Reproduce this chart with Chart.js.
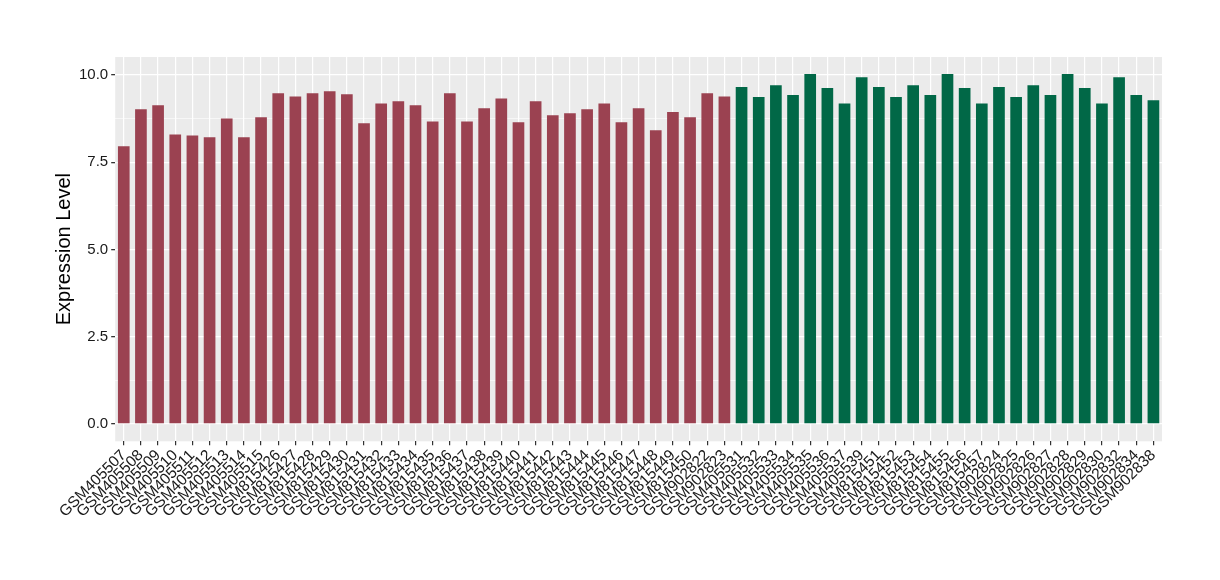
<!DOCTYPE html>
<html>
<head>
<meta charset="utf-8">
<script src="https://cdn.jsdelivr.net/npm/chart.js@4"></script>
<style>
  html, body { margin: 0; padding: 0; background: #fff; }
  #wrap { width: 1220px; height: 580px; }
</style>
</head>
<body>
<div id="wrap"><canvas id="exprChart" width="1220" height="580"></canvas></div>
<script>
// samples, in plot order
const samples = [
  'GSM405507','GSM405508','GSM405509','GSM405510','GSM405511','GSM405512','GSM405513','GSM405514','GSM405515',
  'GSM815426','GSM815427','GSM815428','GSM815429','GSM815430','GSM815431','GSM815432','GSM815433','GSM815434',
  'GSM815435','GSM815436','GSM815437','GSM815438','GSM815439','GSM815440','GSM815441','GSM815442','GSM815443',
  'GSM815444','GSM815445','GSM815446','GSM815447','GSM815448','GSM815449','GSM815450','GSM902822','GSM902823',
  'GSM405531','GSM405532','GSM405533','GSM405534','GSM405535','GSM405536','GSM405537','GSM405539',
  'GSM815451','GSM815452','GSM815453','GSM815454','GSM815455','GSM815456','GSM815457',
  'GSM902824','GSM902825','GSM902826','GSM902827','GSM902828','GSM902829','GSM902830','GSM902832','GSM902834','GSM902838'
];

const expression = [
  7.96, 9.02, 9.14, 8.30, 8.27, 8.22, 8.76, 8.22, 8.79,
  9.48, 9.39, 9.48, 9.54, 9.45, 8.62, 9.19, 9.25, 9.14,
  8.67, 9.48, 8.67, 9.05, 9.33, 8.65, 9.25, 8.85, 8.91,
  9.02, 9.19, 8.65, 9.05, 8.42, 8.94, 8.79, 9.48, 9.39,
  9.66, 9.37, 9.71, 9.43, 10.03, 9.63, 9.19, 9.94,
  9.66, 9.37, 9.71, 9.43, 10.03, 9.63, 9.19,
  9.66, 9.37, 9.71, 9.43, 10.03, 9.63, 9.19, 9.94, 9.43, 9.28
];

// group of each sample: 0 = first group (red), 1 = second group (green)
const group = [
  0,0,0,0,0,0,0,0,0, 0,0,0,0,0,0,0,0,0, 0,0,0,0,0,0,0,0,0, 0,0,0,0,0,0,0,0,0,
  1,1,1,1,1,1,1,1, 1,1,1,1,1,1,1, 1,1,1,1,1,1,1,1,1,1
];
const groupColors = ['#9B4251', '#016847'];

const yTicks = [0, 2.5, 5, 7.5, 10];
const yMinor = [1.25, 3.75, 6.25, 8.75];

const panelBg = {
  id: 'panelBg',
  beforeDraw(chart) {
    const { ctx, chartArea: a } = chart;
    ctx.save();
    ctx.fillStyle = '#EBEBEB';
    ctx.fillRect(a.left, a.top, a.right - a.left, a.bottom - a.top);
    ctx.restore();
  }
};

const ctx = document.getElementById('exprChart').getContext('2d');
new Chart(ctx, {
  type: 'bar',
  data: {
    labels: samples,
    datasets: [{
      data: expression,
      backgroundColor: group.map(g => groupColors[g]),
      barPercentage: 0.68,
      categoryPercentage: 1.0
    }]
  },
  options: {
    responsive: false,
    animation: false,
    layout: { padding: { left: 32, right: 58, top: 57, bottom: 58 } },
    plugins: {
      legend: { display: false },
      tooltip: { enabled: false }
    },
    scales: {
      x: {
        offset: true,
        border: { display: false },
        grid: {
          offset: false,
          color: '#FFFFFF',
          lineWidth: 1.2,
          tickColor: '#333333',
          tickLength: 4
        },
        ticks: {
          autoSkip: false,
          maxRotation: 45,
          minRotation: 45,
          padding: 1,
          color: '#1a1a1a',
          font: { family: 'Liberation Sans', size: 15.5 }
        }
      },
      y: {
        min: -0.5,
        max: 10.52,
        border: { display: false },
        afterBuildTicks(scale) {
          scale.ticks = yTicks.concat(yMinor).sort((a, b) => a - b).map(v => ({ value: v }));
        },
        grid: {
          color: '#FFFFFF',
          lineWidth: c => (yTicks.includes(c.tick.value) ? 1.3 : 0.6),
          tickColor: c => (yTicks.includes(c.tick.value) ? '#333333' : 'rgba(0,0,0,0)'),
          tickLength: 4
        },
        ticks: {
          padding: 3,
          color: '#1a1a1a',
          font: { family: 'Liberation Sans', size: 15 },
          callback: v => (yTicks.includes(v) ? v.toFixed(1) : '')
        },
        title: {
          display: true,
          text: 'Expression Level',
          color: '#000',
          font: { family: 'Liberation Sans', size: 20 },
          padding: { top: 20, bottom: 0 }
        }
      }
    }
  },
  plugins: [panelBg]
});
</script>
</body>
</html>
